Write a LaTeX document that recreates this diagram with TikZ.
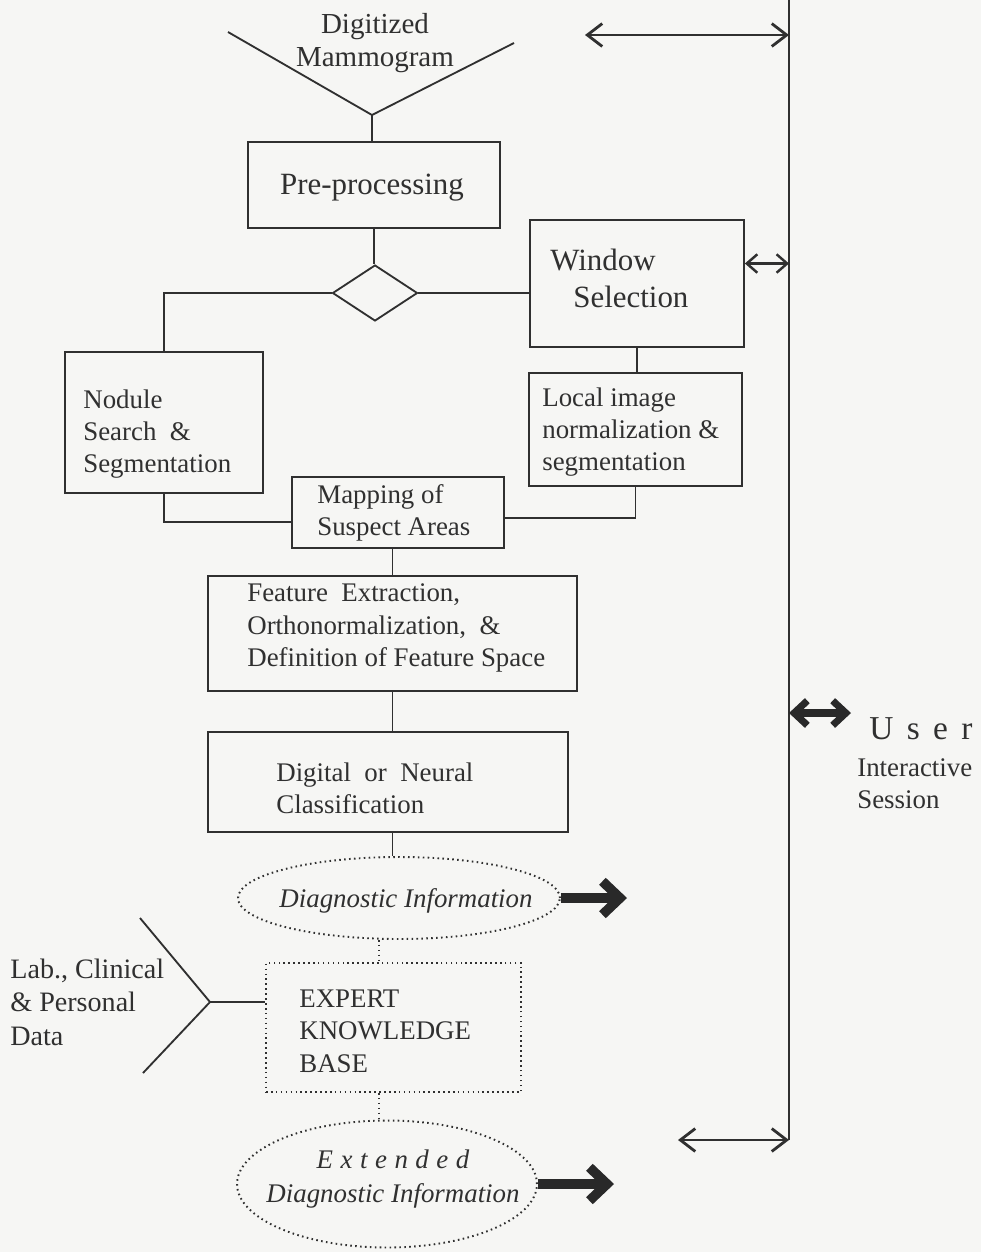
\documentclass[tikz,border=0pt]{standalone}
\usepackage{fontspec}
\setmainfont{Liberation Serif}
\newfontfamily\userfont[LetterSpace=40]{Liberation Serif}
\newfontfamily\extfont[LetterSpace=28]{Liberation Serif}
\usetikzlibrary{arrows.meta,shapes.geometric,calc}
\definecolor{ink}{HTML}{303030}
\definecolor{paper}{HTML}{F6F6F4}
\newcommand{\basefont}{\fontsize{15.3}{18.4}\selectfont}
\newcommand{\bigfont}{\fontsize{17.6}{21}\selectfont}
\begin{document}
\begin{tikzpicture}[x=0.02cm,y=-0.02cm,
  box/.style={draw=ink, line width=1.05pt, rectangle, inner sep=0pt},
  dia/.style={draw=ink, line width=1.05pt, diamond, inner sep=0pt, minimum width=1.7cm, minimum height=1.12cm},
  txt/.style={text=ink, inner sep=0pt, align=left, anchor=west, font=\basefont},
  line/.style={draw=ink, line width=1.05pt},
  dots/.style={draw=ink, line width=1.1pt, dash pattern=on 0.9pt off 1.9pt},
  dotell/.style={draw=ink, line width=1.1pt, dash pattern=on 0.9pt off 1.9pt, ellipse, inner sep=0pt},
  dbl/.style={draw=ink, line width=1.6pt, {Straight Barb[length=8.5pt,width=13pt]}-{Straight Barb[length=8.5pt,width=13pt]}},
  dblsmall/.style={draw=ink, line width=1.4pt, {Straight Barb[length=6pt,width=10.5pt]}-{Straight Barb[length=6pt,width=10.5pt]}},
  fat/.style={draw=ink!85!black, line width=5.5pt, -{Straight Barb[length=10pt,width=19pt]}},
  fatdbl/.style={draw=ink!85!black, line width=4pt, {Straight Barb[length=7.5pt,width=14pt]}-{Straight Barb[length=7.5pt,width=14pt]}}
]
\fill[paper] (0,0) rectangle (981,1252);
\useasboundingbox (0,0) rectangle (981,1252);

% boxes
\node[box, minimum width=5.04cm, minimum height=1.72cm] (pre) at (374,185) {};
\node[dia] (dia) at (375,293) {};
\node[box, minimum width=4.28cm, minimum height=2.54cm] (win) at (637,283.5) {};
\node[box, minimum width=3.96cm, minimum height=2.82cm] (nod) at (164,422.5) {};
\node[box, minimum width=4.26cm, minimum height=2.26cm] (loc) at (635.5,429.5) {};
\node[box, minimum width=4.24cm, minimum height=1.42cm] (map) at (398,512.5) {};
\node[box, minimum width=7.38cm, minimum height=2.3cm] (feat) at (392.5,633.5) {};
\node[box, minimum width=7.2cm, minimum height=2.0cm] (dig) at (388,782) {};
\node[dotell, minimum width=6.44cm, minimum height=1.64cm] (diag) at (399,898) {};
\node[box, dots, minimum width=5.1cm, minimum height=2.58cm] (kb) at (393.5,1027.5) {};
\node[dotell, minimum width=6.0cm, minimum height=2.54cm] (ext) at (387,1184) {};

% texts
\node[txt, anchor=center, font=\bigfont] (preT) at (372,188) {Pre-processing};
\node[txt, anchor=center, align=center, font=\fontsize{16.5}{18.3}\selectfont] (digT) at (375,43) {Digitized\\Mammogram};
\node[txt, font=\bigfont] (winT) at (550,278) {Window\\\hspace{0.46cm}Selection};
\node[txt] (nodT) at (83,434) {Nodule\\Search\ \ \&\\Segmentation};
\node[txt] (locT) at (542,432) {Local image\\normalization \&\\segmentation};
\node[txt] (mapT) at (317,513) {Mapping of\\Suspect Areas};
\node[txt] (featT) at (247,628) {Feature\ \ Extraction,\\Orthonormalization,\ \ \&\\Definition of Feature Space};
\node[txt] (digcT) at (276,788) {Digital\ \ or\ \ Neural\\Classification};
\node[txt, anchor=center, font=\basefont\itshape] (diagT) at (406,901) {Diagnostic Information};
\node[txt] (kbT) at (299,1031) {EXPERT\\KNOWLEDGE\\BASE};
\node[txt, anchor=center, align=center, font=\fontsize{15.3}{19.5}\selectfont\itshape] (extT) at (393,1179) {{\extfont\itshape Extended}\\Diagnostic Information};
\node[txt, font=\fontsize{16}{19}\selectfont] (labT) at (10,1002) {Lab., Clinical\\\& Personal\\Data};
\node[txt, font=\fontsize{19}{22}\selectfont\userfont] (userT) at (869,729) {User};
\node[txt] (interT) at (857,784) {Interactive\\Session};

% coordinates
\coordinate (m1) at (228,32);
\coordinate (mv) at (372,115);
\coordinate (m2) at (514,43);
\coordinate (f1) at (140,918);
\coordinate (fv) at (210,1002);
\coordinate (f2) at (143,1073);
\coordinate (ut) at (789,0);
\coordinate (ub) at (789,1140);
\coordinate (ta) at (585,35);
\coordinate (ba) at (678,1140);
\coordinate (ua) at (851,713);
\coordinate (da) at (627,902);
\coordinate (ea) at (614,1188);
\coordinate (dl) at (379,0);
\coordinate (wa) at ([yshift=0.4cm]win.east);

% connectors
\draw[line] (m1) -- (mv) -- (m2);
\draw[line] (mv) -- (mv |- pre.north);
\draw[line] (pre.south) -- (pre.south |- dia.north);
\draw[line] (dia.east) -- (win.west |- dia.east);
\draw[line] (dia.west) -| (nod.north);
\draw[line] (win.south) -- (win.south |- loc.north);
\draw[line] (nod.south) |- ([yshift=-0.19cm]map.west);
\draw[line] (loc.south) |- ([yshift=-0.11cm]map.east);
\draw[line] (feat.north |- map.south) -- (feat.north);
\draw[line] (feat.south) -- (feat.south |- dig.north);
\draw[line] (feat.south |- dig.south) -- (feat.south |- diag.north);
\draw[dots] (dl |- diag.south) -- (dl |- kb.north);
\draw[dots] (dl |- kb.south) -- (dl |- ext.north);
\draw[line] (f1) -- (fv) -- (f2);
\draw[line] (fv) -- (kb.west |- fv);
\draw[line] (ut) -- (ub);
\draw[dbl] (ta) -- (ta -| ut);
\draw[dblsmall] (wa) -- (wa -| ut);
\draw[fatdbl] (ua -| ut) -- (ua);
\draw[dbl] (ba) -- (ba -| ut);
\draw[fat] (diag.east) -- (diag.east -| da);
\draw[fat] (ext.east) -- (ext.east -| ea);
\end{tikzpicture}
\end{document}
